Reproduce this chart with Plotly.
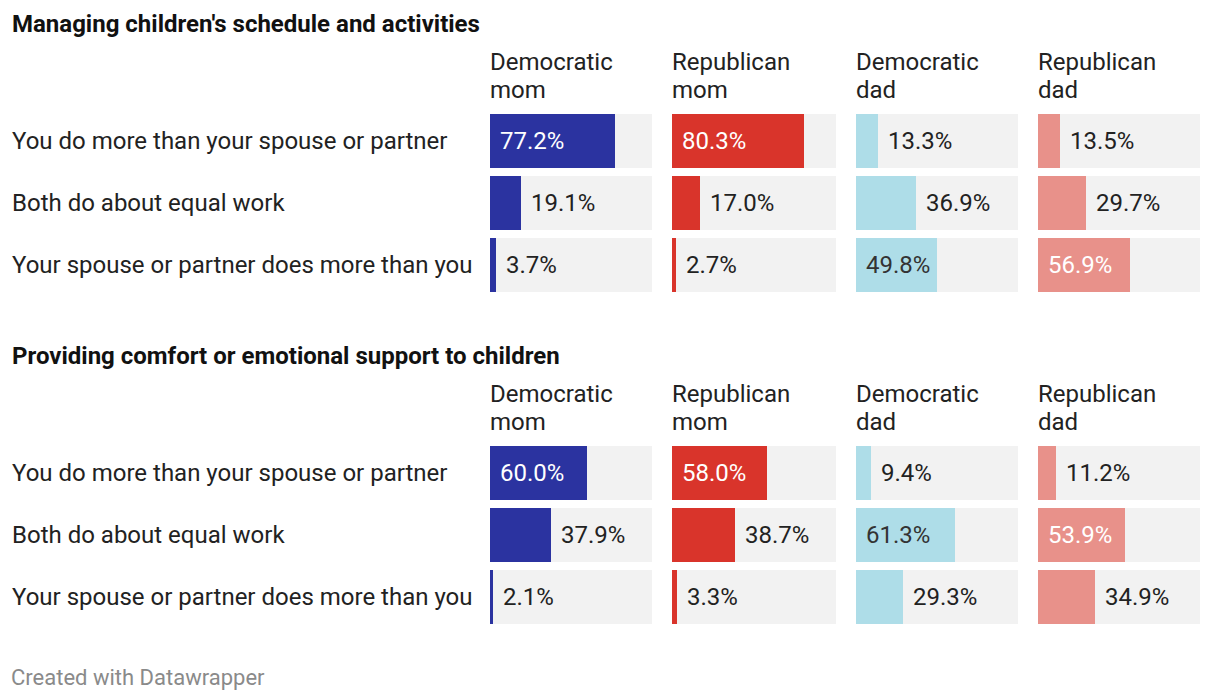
import plotly.graph_objects as go

W, H = 1220, 700

section_titles = ["Managing children's schedule and activities",
                  "Providing comfort or emotional support to children"]
group_line1 = ["Democratic", "Republican", "Democratic", "Republican"]
group_line2 = ["mom", "mom", "dad", "dad"]
responses = ["You do more than your spouse or partner",
             "Both do about equal work",
             "Your spouse or partner does more than you"]

schedule_dem_mom = [77.2, 19.1, 3.7]
schedule_rep_mom = [80.3, 17.0, 2.7]
schedule_dem_dad = [13.3, 36.9, 49.8]
schedule_rep_dad = [13.5, 29.7, 56.9]

comfort_dem_mom = [60.0, 37.9, 2.1]
comfort_rep_mom = [58.0, 38.7, 3.3]
comfort_dem_dad = [9.4, 61.3, 29.3]
comfort_rep_dad = [11.2, 53.9, 34.9]

section_values = [
    [schedule_dem_mom, schedule_rep_mom, schedule_dem_dad, schedule_rep_dad],
    [comfort_dem_mom, comfort_rep_mom, comfort_dem_dad, comfort_rep_dad],
]

bar_colors = ["#2b33a0", "#d9342b", "#aedde8", "#e8918a"]
inside_text_colors = ["#ffffff", "#ffffff", "#333333", "#ffffff"]
bg_color = "#f2f2f2"
text_dark = "#222222"
FONT = "Roboto"

# layout geometry in pixels
col_x = [(490, 652), (672, 836), (856, 1018), (1038, 1200)]
sec_bar_top = [110, 442]      # top of the 3-row block (incl. half gap)
row_pitch = 62
bar_h = 54
sec_title_y = [24, 356]
header_y = [62, 394]          # centre of first header line
header_dy = 28

def px_x(x):
    return x / W

def px_y(y):
    return 1 - y / H

fig = go.Figure()
annotations = []
layout_axes = {}

ax = 0
for s in range(2):
    y0 = sec_bar_top[s]
    y1 = y0 + 3 * row_pitch
    for g in range(4):
        ax += 1
        xa = "x" if ax == 1 else f"x{ax}"
        ya = "y" if ax == 1 else f"y{ax}"
        vals = section_values[s][g]
        fig.add_trace(go.Bar(
            x=[100] * 3, y=responses, orientation="h",
            marker=dict(color=bg_color, line=dict(width=0)),
            width=bar_h / row_pitch, xaxis=xa, yaxis=ya,
            hoverinfo="skip", showlegend=False))
        fig.add_trace(go.Bar(
            x=vals, y=responses, orientation="h",
            marker=dict(color=bar_colors[g], line=dict(width=0)),
            width=bar_h / row_pitch, xaxis=xa, yaxis=ya,
            showlegend=False))
        xkey = "xaxis" if ax == 1 else f"xaxis{ax}"
        ykey = "yaxis" if ax == 1 else f"yaxis{ax}"
        layout_axes[xkey] = dict(domain=[px_x(col_x[g][0]), px_x(col_x[g][1])],
                                 range=[0, 100], visible=False, fixedrange=True,
                                 anchor=ya)
        layout_axes[ykey] = dict(domain=[px_y(y1), px_y(y0)],
                                 range=[2.5, -0.5], visible=False, fixedrange=True,
                                 anchor=xa, type="category",
                                 categoryorder="array", categoryarray=responses)
        pw = col_x[g][1] - col_x[g][0]
        pad = 8 * 100 / pw
        for i, v in enumerate(vals):
            inside = v >= 45
            annotations.append(dict(
                x=(pad if inside else v + pad), y=responses[i], xref=xa, yref=ya,
                text=f"{v:.1f}%", showarrow=False, xanchor="left", yanchor="middle",
                font=dict(family=FONT, size=24,
                          color=inside_text_colors[g] if inside else text_dark)))
        # column header (two lines)
        for k, line in enumerate([group_line1[g], group_line2[g]]):
            annotations.append(dict(
                x=px_x(col_x[g][0] - 2), y=px_y(header_y[s] + k * header_dy),
                xref="paper", yref="paper",
                text=line, showarrow=False, xanchor="left", yanchor="middle",
                font=dict(family=FONT, size=24, color=text_dark)))
    # row labels
    for i, r in enumerate(responses):
        annotations.append(dict(
            x=px_x(10), y=px_y(y0 + row_pitch * (i + 0.5)), xref="paper", yref="paper",
            text=r, showarrow=False, xanchor="left", yanchor="middle",
            font=dict(family=FONT, size=24, color=text_dark)))
    # section title
    annotations.append(dict(
        x=px_x(10), y=px_y(sec_title_y[s]), xref="paper", yref="paper",
        text=f"<b>{section_titles[s]}</b>", showarrow=False, xanchor="left", yanchor="middle",
        font=dict(family=FONT, size=24, color="#111111")))

annotations.append(dict(
    x=px_x(9), y=px_y(677), xref="paper", yref="paper",
    text="Created with Datawrapper", showarrow=False, xanchor="left", yanchor="middle",
    font=dict(family=FONT, size=22, color="#8a8a8a")))

fig.update_layout(
    width=W, height=H, margin=dict(l=0, r=0, t=0, b=0),
    paper_bgcolor="white", plot_bgcolor="white",
    barmode="overlay", bargap=0, showlegend=False,
    annotations=annotations, **layout_axes)

fig.write_html("out.html", config={"displayModeBar": False})
